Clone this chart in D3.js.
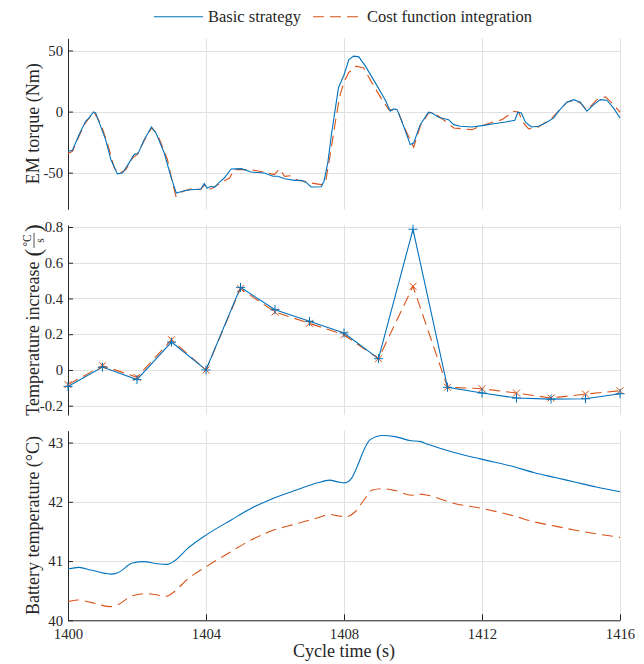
<!DOCTYPE html>
<html>
<head>
<meta charset="utf-8">
<script src="https://cdn.jsdelivr.net/npm/d3@7"></script>
<style>
body { margin: 0; background: #fff; }
</style>
</head>
<body>
<div id="chart"></div>
<script>
    var seriesNames = ["Basic strategy", "Cost function integration"]
    var timeTicks = [1400, 1404, 1408, 1412, 1416]
    var torqueTicks = [-50, 0, 50]
    var riseTicks = [-0.2, 0, 0.2, 0.4, 0.6, 0.8]
    var batteryTicks = [40, 41, 42, 43]

    // EM torque (Nm)
    var torqueTimeBasic = [1400.00, 1400.13, 1400.32, 1400.51, 1400.61, 1400.74, 1400.80, 1401.09, 1401.24, 1401.43,
        1401.58, 1401.77, 1401.92, 1402.03, 1402.20, 1402.42, 1402.55, 1402.79, 1402.98, 1403.14,
        1403.22, 1403.37, 1403.56, 1403.85, 1403.95, 1404.03, 1404.15, 1404.24, 1404.39, 1404.53,
        1404.73, 1405.02, 1405.31, 1405.69, 1405.94, 1406.08, 1406.28, 1406.57, 1406.76, 1406.90,
        1407.05, 1407.34, 1407.42, 1407.53, 1407.63, 1407.73, 1407.84, 1408.00, 1408.14, 1408.28,
        1408.43, 1408.62, 1408.91, 1409.20, 1409.34, 1409.44, 1409.54, 1409.73, 1409.92, 1410.02,
        1410.21, 1410.45, 1410.55, 1410.74, 1410.94, 1411.03, 1411.18, 1411.37, 1411.71, 1412.00,
        1412.39, 1412.68, 1412.95, 1413.04, 1413.14, 1413.26, 1413.43, 1413.64, 1413.88, 1414.08,
        1414.22, 1414.46, 1414.66, 1414.85, 1415.04, 1415.24, 1415.43, 1415.62, 1415.81, 1416.00]
    var torqueBasic = [-32.5, -31.7, -18.9, -7.9, -5.2, -0.3, -1.0, -23, -39, -51,
        -50.3, -42, -35, -34.4, -23.5, -12.6, -17.5, -33.9, -53, -66.7,
        -66, -64.8, -64, -63.4, -59, -62.6, -61.2, -62, -57.7, -54.4,
        -47, -46.7, -49.5, -50.3, -53, -53, -55, -56.3, -56.3, -58,
        -61.7, -61.5, -57, -42, -20, -1, 19.5, 30, 42.6, 45.4,
        44.8, 37.2, 23.5, 9.3, 0.3, 2.2, 1.6, -12, -27, -25.7,
        -10.7, -0.5, -1.1, -4.6, -6, -6.6, -10.7, -12, -12.6, -11.5,
        -9.8, -8.5, -7.1, -0.5, -1.1, -8.7, -12.6, -12, -8.7, -5.2,
        0.3, 7.7, 9.8, 7.7, 0.3, 5.7, 9.8, 9.3, 3, -5.2]

    var torqueTimeCost = [1400.00, 1400.13, 1400.32, 1400.51, 1400.75, 1400.95, 1401.14, 1401.34, 1401.48, 1401.68,
        1401.87, 1402.01, 1402.20, 1402.42, 1402.60, 1402.88, 1403.03, 1403.13, 1403.22, 1403.47,
        1403.61, 1403.84, 1403.95, 1404.05, 1404.19, 1404.43, 1404.68, 1404.82, 1405.11, 1405.40,
        1405.69, 1405.98, 1406.13, 1406.28, 1406.47, 1406.66, 1406.86, 1407.05, 1407.34, 1407.46,
        1407.58, 1407.73, 1407.87, 1408.00, 1408.14, 1408.23, 1408.35, 1408.57, 1408.81, 1409.10,
        1409.30, 1409.44, 1409.58, 1409.78, 1410.02, 1410.21, 1410.45, 1410.60, 1410.84, 1410.98,
        1411.18, 1411.47, 1411.71, 1412.00, 1412.30, 1412.58, 1412.82, 1412.92, 1413.06, 1413.20,
        1413.35, 1413.64, 1414.03, 1414.22, 1414.46, 1414.66, 1414.85, 1415.04, 1415.33, 1415.58,
        1415.81, 1416.00]
    var torqueCost = [-34.4, -32.5, -20, -9, -0.3, -10, -25.7, -46, -50.8, -47.5,
        -38, -35, -24.3, -13.4, -18.9, -39, -58.5, -69.4, -66.7, -64,
        -63, -64, -60, -64, -62.6, -58.5, -54.4, -47.5, -47.5, -48,
        -49.7, -51.6, -47, -53, -52.5, -56.3, -57, -58.5, -59.8, -58.5,
        -39, -12, 12, 24, 32.2, 33.6, 37.2, 35.8, 23.5, 9.8,
        1.6, 1.1, -1.1, -14.8, -29.2, -12, -1.1, -0.5, -6, -8.7,
        -13.4, -14.2, -14.8, -11.5, -8.7, -6.6, -1.6, 0.3, -0.5, -9.3,
        -14.2, -12.6, -5.2, 0.3, 7.7, 9.3, 7.1, 1.1, 9.8, 12,
        5.7, -0.5]

    // temperature increase (degC/s), one value per second
    var riseTime = [1400, 1401, 1402, 1403, 1404, 1405, 1406, 1407, 1408, 1409, 1410, 1411, 1412, 1413, 1414, 1415, 1416]
    var riseBasic = [-0.092, 0.016, -0.054, 0.156, 0.0, 0.462, 0.337, 0.272, 0.207, 0.063, 0.787, -0.097, -0.129, -0.157, -0.163, -0.161, -0.133]
    var riseCost = [-0.082, 0.024, -0.041, 0.169, 0.0, 0.455, 0.324, 0.261, 0.197, 0.063, 0.468, -0.097, -0.105, -0.129, -0.157, -0.135, -0.116]

    // battery temperature (degC)
    var batteryTimeBasic = [1400.00, 1400.32, 1400.66, 1401.24, 1401.43, 1401.87, 1402.20, 1402.59, 1402.88, 1403.08,
        1403.47, 1404.00, 1404.72, 1405.30, 1405.89, 1406.66, 1407.24, 1407.58, 1407.82, 1408.02,
        1408.21, 1408.40, 1408.58, 1408.76, 1409.12, 1409.48, 1409.95, 1410.19, 1410.43, 1411.14,
        1411.98, 1412.93, 1413.52, 1414.12, 1414.71, 1415.31, 1416.00]
    var batteryBasic = [40.865, 40.893, 40.848, 40.78, 40.80, 40.966, 40.99, 40.955, 40.944, 41.0,
        41.213, 41.438, 41.69, 41.888, 42.045, 42.208, 42.32, 42.365, 42.337, 42.32,
        42.39, 42.62, 42.88, 43.05, 43.12, 43.1, 43.03, 43.02, 42.97, 42.84,
        42.72, 42.59, 42.49, 42.41, 42.33, 42.25, 42.17]
    var batteryTimeCost = [1400.00, 1400.27, 1400.66, 1401.24, 1401.43, 1401.87, 1402.26, 1402.59, 1402.84, 1403.08,
        1403.47, 1404.00, 1404.72, 1405.30, 1405.89, 1406.66, 1407.24, 1407.58, 1407.82, 1408.06,
        1408.30, 1408.58, 1408.82, 1409.12, 1409.48, 1409.95, 1410.19, 1410.43, 1411.14, 1411.98,
        1412.93, 1413.52, 1414.12, 1414.71, 1415.31, 1416.00]
    var batteryCost = [40.315, 40.343, 40.303, 40.23, 40.258, 40.416, 40.45, 40.427, 40.405, 40.483,
        40.697, 40.904, 41.157, 41.354, 41.506, 41.635, 41.73, 41.787, 41.764, 41.747,
        41.82, 42.03, 42.2, 42.22, 42.19, 42.11, 42.13, 42.11, 41.98, 41.89,
        41.76, 41.66, 41.59, 41.52, 41.46, 41.40]

    var blue = "#0072BD"
    var orange = "#D95319"
    var ink = "#262626"
    var dash = "11,6"
    var serif = "'Liberation Serif', 'DejaVu Serif', serif"

    var svg = d3.select("#chart").append("svg")
        .attr("width", 644)
        .attr("height", 664)
        .attr("font-family", serif)

    var x = d3.scaleLinear().domain([1400, 1416]).range([68, 620])
    var yTorque = d3.scaleLinear().domain([-80, 60]).range([209.3, 38.3])
    var yRise = d3.scaleLinear().domain([-0.252, 0.811]).range([415, 225])
    var yBattery = d3.scaleLinear().domain([40, 43.2]).range([620.3, 430.7])

    function zip(ts, vs) {
        return ts.map((t, i) => [t, vs[i]])
    }

    function fmt(d) {
        return (+d.toFixed(1)).toString()
    }

    function panel(y, ticks) {
        var g = svg.append("g")
        var top = y.range()[1], bottom = y.range()[0]
        g.append("g").selectAll("line")
            .data(timeTicks.slice(1))
            .join("line")
                .attr("x1", d => Math.round(x(d)) + 0.5)
                .attr("x2", d => Math.round(x(d)) + 0.5)
                .attr("y1", top)
                .attr("y2", bottom)
                .attr("stroke", "#e1e1e1")
        g.append("g").selectAll("line")
            .data(ticks)
            .join("line")
                .attr("x1", x.range()[0])
                .attr("x2", x.range()[1])
                .attr("y1", d => Math.round(y(d)) + 0.5)
                .attr("y2", d => Math.round(y(d)) + 0.5)
                .attr("stroke", "#e1e1e1")
        var ax = g.append("g")
            .attr("transform", "translate(" + x.range()[0] + ",0)")
            .call(d3.axisLeft(y).tickValues(ticks).tickSizeInner(-5).tickSizeOuter(0).tickPadding(5).tickFormat(fmt))
        styleAxis(ax)
        return g
    }

    function styleAxis(ax) {
        ax.attr("font-family", null).attr("font-size", null)
        ax.select(".domain").attr("stroke", ink)
        ax.selectAll(".tick line").attr("stroke", ink)
        ax.selectAll("text").style("font-size", "14.7px")
    }

    function drawLine(g, y, data, color, dashed, curve) {
        g.append("path")
            .datum(data)
            .attr("fill", "none")
            .attr("stroke", color)
            .attr("stroke-width", 1.1)
            .attr("stroke-dasharray", dashed ? dash : null)
            .attr("d", d3.line().x(d => x(d[0])).y(d => y(d[1])).curve(curve || d3.curveLinear))
    }

    function yLabel(text, cy) {
        svg.append("text")
            .attr("transform", "translate(39," + cy + ") rotate(-90)")
            .attr("text-anchor", "middle")
            .style("font-size", "18px")
            .text(text)
    }

    // panel 1
    var p1 = panel(yTorque, torqueTicks)
    drawLine(p1, yTorque, zip(torqueTimeCost, torqueCost), orange, true)
    drawLine(p1, yTorque, zip(torqueTimeBasic, torqueBasic), blue, false)
    yLabel("EM torque (Nm)", 123.8)

    // panel 2
    var p2 = panel(yRise, riseTicks)
    drawLine(p2, yRise, zip(riseTime, riseCost), orange, true)
    drawLine(p2, yRise, zip(riseTime, riseBasic), blue, false)
    p2.append("g").selectAll("path")
        .data(zip(riseTime, riseCost))
        .join("path")
            .attr("transform", d => "translate(" + x(d[0]) + "," + yRise(d[1]) + ")")
            .attr("d", "M-3.5,-3.5L3.5,3.5M-3.5,3.5L3.5,-3.5")
            .attr("stroke", orange)
            .attr("stroke-width", 1)
    p2.append("g").selectAll("path")
        .data(zip(riseTime, riseBasic))
        .join("path")
            .attr("transform", d => "translate(" + x(d[0]) + "," + yRise(d[1]) + ")")
            .attr("d", "M-4.5,0H4.5M0,-4.5V4.5")
            .attr("stroke", blue)
            .attr("stroke-width", 1)

    // panel 3
    var p3 = panel(yBattery, batteryTicks)
    drawLine(p3, yBattery, zip(batteryTimeCost, batteryCost), orange, true, d3.curveMonotoneX)
    drawLine(p3, yBattery, zip(batteryTimeBasic, batteryBasic), blue, false, d3.curveMonotoneX)
    yLabel("Battery temperature (°C)", 525.5)

    var xAxis = svg.append("g")
        .attr("transform", "translate(0," + yBattery.range()[0] + ")")
        .call(d3.axisBottom(x).tickValues(timeTicks).tickSizeInner(-6).tickSizeOuter(0).tickPadding(8).tickFormat(d3.format("d")))
    styleAxis(xAxis)

    svg.append("text")
        .attr("x", (x.range()[0] + x.range()[1]) / 2)
        .attr("y", 657)
        .attr("text-anchor", "middle")
        .style("font-size", "18px")
        .text("Cycle time (s)")

    // rotated label with the degC / s fraction
    var lab = svg.append("g").attr("transform", "translate(39,320) rotate(-90)")
    var inner = lab.append("g")
    var main = inner.append("text").style("font-size", "18px").text("Temperature increase")
    var w = main.node().getComputedTextLength() + 5
    var lp = inner.append("text").attr("x", w).attr("y", 2).style("font-size", "23px").text("(")
    w += lp.node().getComputedTextLength() + 1
    var fracW = 15
    inner.append("text").attr("x", w + fracW / 2).attr("y", -8).attr("text-anchor", "middle").style("font-size", "11.5px").text("°C")
    inner.append("line").attr("x1", w).attr("x2", w + fracW).attr("y1", -5).attr("y2", -5).attr("stroke", ink).attr("stroke-width", 0.8)
    inner.append("text").attr("x", w + fracW / 2).attr("y", 4.5).attr("text-anchor", "middle").style("font-size", "11.5px").text("s")
    w += fracW + 1
    var rp = inner.append("text").attr("x", w).attr("y", 2).style("font-size", "23px").text(")")
    w += rp.node().getComputedTextLength()
    inner.attr("transform", "translate(" + (-w / 2) + ",0)")

    // legend
    var legend = svg.append("g")
    var legendItems = [
        {name: seriesNames[0], color: blue, dashed: false, x0: 154},
        {name: seriesNames[1], color: orange, dashed: true, x0: 313}
    ]
    legendItems.forEach(item => {
        legend.append("line")
            .attr("x1", item.x0).attr("x2", item.x0 + 49)
            .attr("y1", 16.7).attr("y2", 16.7)
            .attr("stroke", item.color)
            .attr("stroke-width", 1.1)
            .attr("stroke-dasharray", item.dashed ? dash : null)
        legend.append("text")
            .attr("x", item.x0 + 54)
            .attr("y", 21.5)
            .style("font-size", "16.5px")
            .text(item.name)
    })

    svg.selectAll("text")
        .style("font-family", serif)
        .style("fill", ink)
</script>
